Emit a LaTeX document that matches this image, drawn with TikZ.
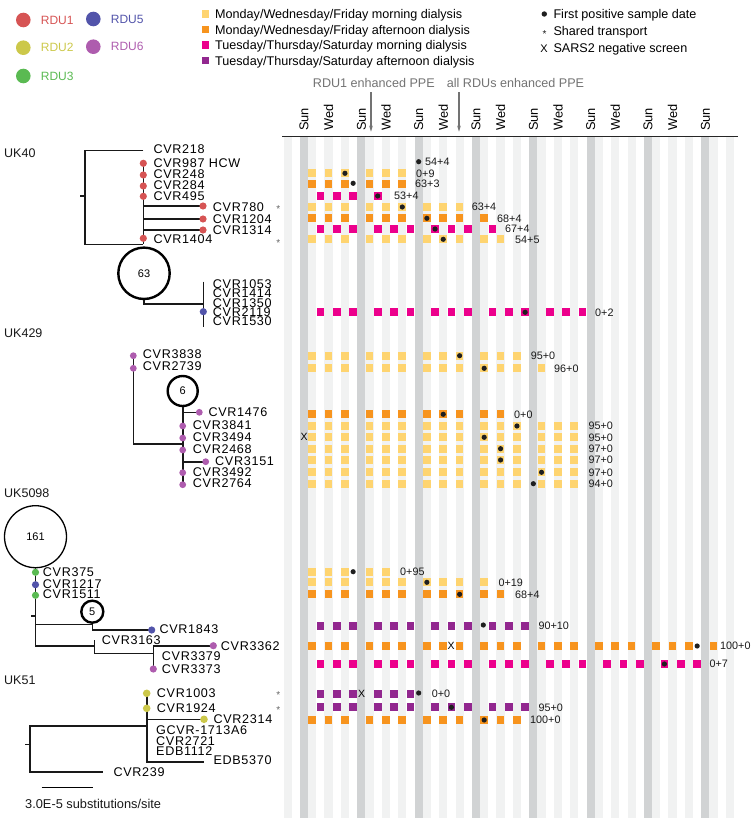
\documentclass[tikz,border=0pt]{standalone}
\usepackage{fontspec}
\setmainfont{Liberation Sans}
\newfontfamily\tipfont[LetterSpace=5.5]{Liberation Sans}
\usetikzlibrary{arrows.meta}

\definecolor{rduone}{RGB}{214,84,84}
\definecolor{rdutwo}{RGB}{204,200,74}
\definecolor{rduthree}{RGB}{90,186,82}
\definecolor{rdufive}{RGB}{82,84,170}
\definecolor{rdusix}{RGB}{174,92,174}
\definecolor{mwfamcol}{RGB}{254,212,112}
\definecolor{mwfpmcol}{RGB}{247,148,30}
\definecolor{ttsamcol}{RGB}{236,0,140}
\definecolor{ttspmcol}{RGB}{146,39,143}
\definecolor{sungrey}{RGB}{209,211,212}
\definecolor{daygrey}{RGB}{241,242,242}

% x of a day column: week #1, day #2 (0 = Sunday)
\newcommand{\dayx}[2]{(304+57.333*(#1)+8.1905*(#2))}
% dialysis squares: style, y, days, weeks
\newcommand{\sessions}[4]{\foreach \wk in {#4}{\foreach \dy in {#3}{
      \fill[#1] ({\dayx{\wk}{\dy}-3.8},{#2-3.9}) rectangle ++(7.6,7.8);}}}
\newcommand{\mwf}[3]{\sessions{#1}{#2}{1,3,5}{#3}}
\newcommand{\tts}[3]{\sessions{#1}{#2}{2,4,6}{#3}}
\newcommand{\firstpos}[3]{\fill[posdot] ({\dayx{#1}{#2}},#3) circle (2.6);}

\tikzset{
  mwfam/.style={fill=mwfamcol},
  mwfpm/.style={fill=mwfpmcol},
  ttsam/.style={fill=ttsamcol},
  ttspm/.style={fill=ttspmcol},
  posdot/.style={fill=black!88},
  branch/.style={line width=1.6pt, black!90},
  tiplabel/.style={anchor=west, inner sep=0pt, text depth=0pt, font=\tipfont\fontsize{12.6}{12.6}\selectfont},
  count/.style={anchor=west, inner sep=0pt, text depth=0pt, font=\fontsize{10.8}{11}\selectfont, black!90},
  clade/.style={anchor=west, inner sep=0pt, text depth=0pt, font=\fontsize{12.5}{13}\selectfont, black!90},
  legtext/.style={anchor=west, inner sep=0pt, text depth=0pt, font=\fontsize{12.6}{13}\selectfont},
  dayname/.style={rotate=90, anchor=west, inner sep=0pt, text depth=0pt, font=\fontsize{12.8}{13}\selectfont},
  bubble/.style={circle, draw, line width=2.4pt, inner sep=0pt, font=\fontsize{11}{11}\selectfont},
  negx/.style={inner sep=0pt, text depth=0pt, font=\fontsize{10.5}{11}\selectfont},
  shared/.style={anchor=base, inner sep=0pt, font=\fontsize{10}{10}\selectfont, black!60},
  ppearrow/.style={black!55, line width=1.2pt, -{Stealth[length=6pt,width=3.6pt]}}
}

\begin{document}
\begin{tikzpicture}[x=1pt,y=-1pt]
\useasboundingbox (0,0) rectangle (750,818);

% ---- calendar background
\foreach \k in {-2,...,52} {
  \pgfmathtruncatemacro{\m}{mod(\k+7,7)}
  \ifnum\m=0
    \fill[sungrey] ({304+8.1905*\k-4.1},137.5) rectangle ++(8.2,680.5);
  \else\ifodd\m
    \fill[daygrey] ({304+8.1905*\k-4.1},137.5) rectangle ++(8.2,680.5);
  \fi\fi
}
\draw[line width=1.3pt, black!85] (282,136.7) -- (738,136.7);
\foreach \wk in {0,...,7}
  \node[dayname] (sun\wk) at ({\dayx{\wk}{0}},131) {Sun};
\foreach \wk in {0,...,6}
  \node[dayname] (wed\wk) at ({\dayx{\wk}{3}},131) {Wed};

% ---- PPE changes
\node[legtext, black!55] (ppe1) at (312.7,82.7) {RDU1 enhanced PPE};
\node[legtext, black!55] (ppe2) at (446.7,82.7) {all RDUs enhanced PPE};
\coordinate (ppe1top) at (371,92.3);
\coordinate (ppe1end) at (371,131.7);
\coordinate (ppe2top) at (459,92.3);
\coordinate (ppe2end) at (459,131.7);
\draw[ppearrow] (ppe1top) -- (ppe1end);
\draw[ppearrow] (ppe2top) -- (ppe2end);

% ---- legends
\foreach \c/\x/\y/\t in {rduone/23.3/20/RDU1, rdufive/93.3/19/RDU5,
    rdutwo/23.3/47.7/RDU2, rdusix/93.3/46.7/RDU6, rduthree/23.3/76/RDU3} {
  \fill[\c] (\x,\y) circle (7.3);
  \node[legtext, text=\c, font=\fontsize{12}{12}\selectfont] (leg\t) at (\x+17.4,\y) {\t};
}
\fill[mwfamcol] (201.7,10.2) rectangle ++(7.6,7.6);
\fill[mwfpmcol] (201.7,25.7) rectangle ++(7.6,7.6);
\fill[ttsamcol] (201.7,41.2) rectangle ++(7.6,7.6);
\fill[ttspmcol] (201.7,56.7) rectangle ++(7.6,7.6);
\node[legtext] (legmwfam) at (215,14) {Monday/Wednesday/Friday morning dialysis};
\node[legtext] (legmwfpm) at (215,29.5) {Monday/Wednesday/Friday afternoon dialysis};
\node[legtext] (legttsam) at (215,45) {Tuesday/Thursday/Saturday morning dialysis};
\node[legtext] (legttspm) at (215,60.5) {Tuesday/Thursday/Saturday afternoon dialysis};
\fill[posdot] (544.3,14) circle (2.7);
\node[shared, black!90] (legstar) at (544.5,37.4) {*};
\node[negx, font=\fontsize{11}{11}\selectfont] (legx) at (544,48.3) {X};
\node[legtext] (legpos) at (553.3,14) {First positive sample date};
\node[legtext] (legshared) at (553.3,30.5) {Shared transport};
\node[legtext] (legneg) at (553.3,48) {SARS2 negative screen};

% ---- UK40 tree
\node[clade] (uk40) at (4,153.3) {UK40};
\draw[branch] (85,196) -- ++(-5,0);
\draw[branch] (143.3,150.7) -| (85,244.3) -- (143.3,244.3);
\draw[branch] (143.3,163.3) -- (143.3,244.3);
\foreach \y in {206,219,230} \draw[branch] (143.3,\y) -- (203,\y);
\node[bubble, minimum size=51.4pt] (n63) at (144,273.3) {63};
\draw[branch] (n63.south) |- (203.3,304);
\draw[branch] (203.3,281.7) -- (203.3,327);
\foreach \y in {163.3,175,186,196.3,238.3} \fill[rduone] (143.3,\y) circle (3.6);
\foreach \y in {206,219,230} \fill[rduone] (203,\y) circle (3.6);
\fill[rdufive] (203.3,311.7) circle (3.6);
\node[tiplabel] (cvr218) at (153.3,149.3) {CVR218};
\node[tiplabel] (cvr987) at (153.3,162.7) {CVR987 HCW};
\node[tiplabel] (cvr248) at (153.3,174) {CVR248};
\node[tiplabel] (cvr284) at (153.3,185.3) {CVR284};
\node[tiplabel] (cvr495) at (153.3,196) {CVR495};
\node[tiplabel] (cvr780) at (212.7,207) {CVR780};
\node[tiplabel] (cvr1204) at (212.7,219) {CVR1204};
\node[tiplabel] (cvr1314) at (212.7,230) {CVR1314};
\node[tiplabel] (cvr1404) at (153.3,239.3) {CVR1404};
\node[tiplabel] (cvr1053) at (212.7,284) {CVR1053};
\node[tiplabel] (cvr1414) at (212.7,293.3) {CVR1414};
\node[tiplabel] (cvr1350) at (212.7,302.7) {CVR1350};
\node[tiplabel] (cvr2119) at (212.7,311.7) {CVR2119};
\node[tiplabel] (cvr1530) at (212.7,321) {CVR1530};
\node[shared] (s780) at (278.3,213) {*};
\node[shared] (s1404) at (278.3,246.7) {*};

% ---- UK429 tree
\node[clade] (uk429) at (4,332.7) {UK429};
\draw[branch] (133.3,355.7) |- (182.7,444);
\node[bubble, minimum size=30pt] (n6) at (182.7,391) {6};
\draw[branch] (n6.south) -- (182.7,484.7);
\draw[branch] (182.7,412.3) -- (199.3,412.3);
\draw[branch] (182.7,461.7) -- (205.7,461.7);
\foreach \p in {(133.3,355.7),(133.3,368.3),(199.3,412.3),(182.7,426),(182.7,438),
    (182.7,450),(205.7,461.7),(182.7,472.7),(182.7,484.7)}
  \fill[rdusix] \p circle (3.4);
\node[tiplabel] (cvr3838) at (142.7,354.3) {CVR3838};
\node[tiplabel] (cvr2739) at (142.7,366) {CVR2739};
\node[tiplabel] (cvr1476) at (208.3,412.3) {CVR1476};
\node[tiplabel] (cvr3841) at (192.7,425.3) {CVR3841};
\node[tiplabel] (cvr3494) at (192.7,437.3) {CVR3494};
\node[tiplabel] (cvr2468) at (192.7,449) {CVR2468};
\node[tiplabel] (cvr3151) at (215,460.7) {CVR3151};
\node[tiplabel] (cvr3492) at (192.7,471.7) {CVR3492};
\node[tiplabel] (cvr2764) at (192.7,483.3) {CVR2764};

% ---- UK5098 tree
\node[clade] (uk5098) at (4,492.7) {UK5098};
\node[bubble, line width=1.3pt, minimum size=62pt] (n161) at (35.5,536.7) {161};
\draw[branch] (n161.south) -- (35.5,645.7) -- (94.3,645.7);
\draw[branch] (35.5,616) -- ++(-4.5,0);
\node[bubble, minimum size=22pt] (n5) at (92.3,611.7) {5};
\draw[branch] (35.5,624.3) -| (n5.south);
\draw[branch] (n5.south) |- (151.7,630);
\draw[branch] (94.3,640) -- (94.3,653.3) -- (153.3,653.3);
\draw[branch] (153.3,669) -- (153.3,645.7) -- (213.3,645.7);
\fill[rduthree] (35.5,572.3) circle (3.6);
\fill[rdufive] (35.5,584.7) circle (3.6);
\fill[rduthree] (35.5,595.3) circle (3.6);
\fill[rdufive] (151.7,630) circle (3.6);
\fill[rdusix] (213.3,645.7) circle (3.6);
\fill[rdusix] (153.3,669) circle (3.6);
\node[tiplabel] (cvr375) at (42.7,572.3) {CVR375};
\node[tiplabel] (cvr1217) at (42.7,584) {CVR1217};
\node[tiplabel] (cvr1511) at (42.7,594.3) {CVR1511};
\node[tiplabel] (cvr1843) at (159.3,628.7) {CVR1843};
\node[tiplabel] (cvr3163) at (101.7,640) {CVR3163};
\node[tiplabel] (cvr3362) at (220.7,645.7) {CVR3362};
\node[tiplabel] (cvr3379) at (161.7,655.7) {CVR3379};
\node[tiplabel] (cvr3373) at (161.7,668.7) {CVR3373};

% ---- UK51 tree
\node[clade] (uk51) at (4,680) {UK51};
\draw[branch] (30,744.3) -- ++(-5,0);
\draw[branch] (146.7,725.7) -- (30,725.7) -- (30,771.7) -- (103.3,771.7);
\draw[branch] (146.7,693.3) -- (146.7,761.7) -- (204,761.7);
\draw[branch] (146.7,719.3) -- (204,719.3);
\foreach \p in {(146.7,693.3),(146.7,708.3),(204,719.3)}
  \fill[rdutwo] \p circle (3.8);
\node[tiplabel] (cvr1003) at (156.7,693.3) {CVR1003};
\node[tiplabel] (cvr1924) at (156.7,707.7) {CVR1924};
\node[tiplabel] (cvr2314) at (213.3,719) {CVR2314};
\node[tiplabel] (gcvr1713) at (156,730) {GCVR-1713A6};
\node[tiplabel] (cvr2721) at (156,740.7) {CVR2721};
\node[tiplabel] (edb1112) at (156,750.7) {EDB1112};
\node[tiplabel] (edb5370) at (213.3,760.3) {EDB5370};
\node[tiplabel] (cvr239) at (113.3,771.7) {CVR239};
\node[shared] (s1003) at (278.3,698.7) {*};
\node[shared] (s1924) at (278.3,713.4) {*};
\draw[line width=1.3pt] (41.7,787.7) -- (92.7,787.7);
\node[clade, font=\fontsize{12.8}{13}\selectfont] (scalebar) at (25,804) {3.0E-5 substitutions/site};

% ---- UK40 dialysis
\firstpos{2}{0}{161.7}
\node[count] (c987) at (425,161.7) {54+4};
\mwf{mwfam}{173.3}{0,1} \firstpos{0}{5}{173.3}
\node[count] (c248) at (416,173.3) {0+9};
\mwf{mwfpm}{184}{0,1} \firstpos{0}{6}{183.3}
\node[count] (c284) at (415,184) {63+3};
\tts{ttsam}{196}{0} \sessions{ttsam}{196}{2}{1} \firstpos{1}{2}{196}
\node[count] (c495) at (394,196) {53+4};
\mwf{mwfam}{207}{0,1,2} \firstpos{1}{5}{207}
\node[count] (c780) at (471.7,207) {63+4};
\mwf{mwfpm}{218.3}{0,1,2} \sessions{mwfpm}{218.3}{1}{3} \firstpos{2}{1}{218.3}
\node[count] (c1204) at (497,218.3) {68+4};
\tts{ttsam}{229}{0,1,2} \sessions{ttsam}{229}{2}{3} \firstpos{2}{2}{229}
\node[count] (c1314) at (505,229) {67+4};
\mwf{mwfam}{239.3}{0,1,2} \sessions{mwfam}{239.3}{1,3}{3} \firstpos{2}{3}{239.3}
\node[count] (c1404) at (515,239.3) {54+5};
\tts{ttsam}{312.3}{0,...,4} \firstpos{3}{6}{312.3}
\node[count] (c2119) at (595,312.3) {0+2};

% ---- UK429 dialysis
\mwf{mwfam}{355.7}{0,...,3} \firstpos{2}{5}{355.7}
\node[count] (c3838) at (530.7,355.7) {95+0};
\mwf{mwfam}{368.3}{0,...,3} \sessions{mwfam}{368.3}{1}{4} \firstpos{3}{1}{368.3}
\node[count] (c2739) at (554,368.3) {96+0};
\mwf{mwfpm}{414.3}{0,1,2} \sessions{mwfpm}{414.3}{1,3}{3} \firstpos{2}{3}{414.3}
\node[count] (c1476) at (514,414.3) {0+0};
\mwf{mwfam}{426}{0,...,4} \firstpos{3}{5}{426}
\node[count] (c3841) at (588.3,426) {95+0};
\node[negx] (x3494) at (304,437.3) {X};
\mwf{mwfam}{437.3}{0,...,4} \firstpos{3}{1}{437.3}
\node[count] (c3494) at (588.3,437.3) {95+0};
\mwf{mwfam}{448.7}{0,...,4} \firstpos{3}{3}{448.7}
\node[count] (c2468) at (588.3,448.7) {97+0};
\mwf{mwfam}{460}{0,...,4} \firstpos{3}{3}{460}
\node[count] (c3151) at (588.3,460) {97+0};
\mwf{mwfam}{472.3}{0,...,4} \firstpos{4}{1}{472.3}
\node[count] (c3492) at (588.3,472.3) {97+0};
\mwf{mwfam}{483.7}{0,...,4} \firstpos{4}{0}{483.7}
\node[count] (c2764) at (588.3,483.7) {94+0};

% ---- UK5098 dialysis
\mwf{mwfam}{571.7}{0} \sessions{mwfam}{571.7}{1,3}{1} \firstpos{0}{6}{571.7}
\node[count] (c375) at (400,571.7) {0+95};
\mwf{mwfam}{582.3}{0,1,2} \sessions{mwfam}{582.3}{1}{3} \firstpos{2}{1}{582.3}
\node[count] (c1217) at (498.3,582.3) {0+19};
\mwf{mwfpm}{594.3}{0,1,2} \sessions{mwfpm}{594.3}{1,3}{3} \firstpos{2}{5}{594.3}
\node[count] (c1511) at (515,594.3) {68+4};
\tts{ttspm}{626}{0,...,3} \fill[posdot] (483.3,625) circle (2.6);
\node[count] (c1843) at (538.3,626) {90+10};
\mwf{mwfpm}{646}{0,...,6} \sessions{mwfpm}{646}{1}{7} \firstpos{6}{6}{646}
\node[negx] (x3362) at (451,646) {X};
\node[count] (c3362) at (720,646) {100+0};
\tts{ttsam}{664}{0,...,6} \firstpos{6}{2}{664}
\node[count] (c3373) at (709.3,664) {0+7};

% ---- UK51 dialysis
\tts{ttspm}{694}{0,1} \firstpos{2}{0}{693}
\node[negx] (x1003) at (361.7,694) {X};
\node[count] (c1003) at (431.7,694) {0+0};
\tts{ttspm}{707.3}{0,...,3} \firstpos{2}{4}{707.3}
\node[count] (c1924) at (538.3,707.3) {95+0};
\mwf{mwfpm}{720}{0,...,3} \firstpos{3}{1}{720}
\node[count] (c2314) at (530,720) {100+0};
\end{tikzpicture}
\end{document}
